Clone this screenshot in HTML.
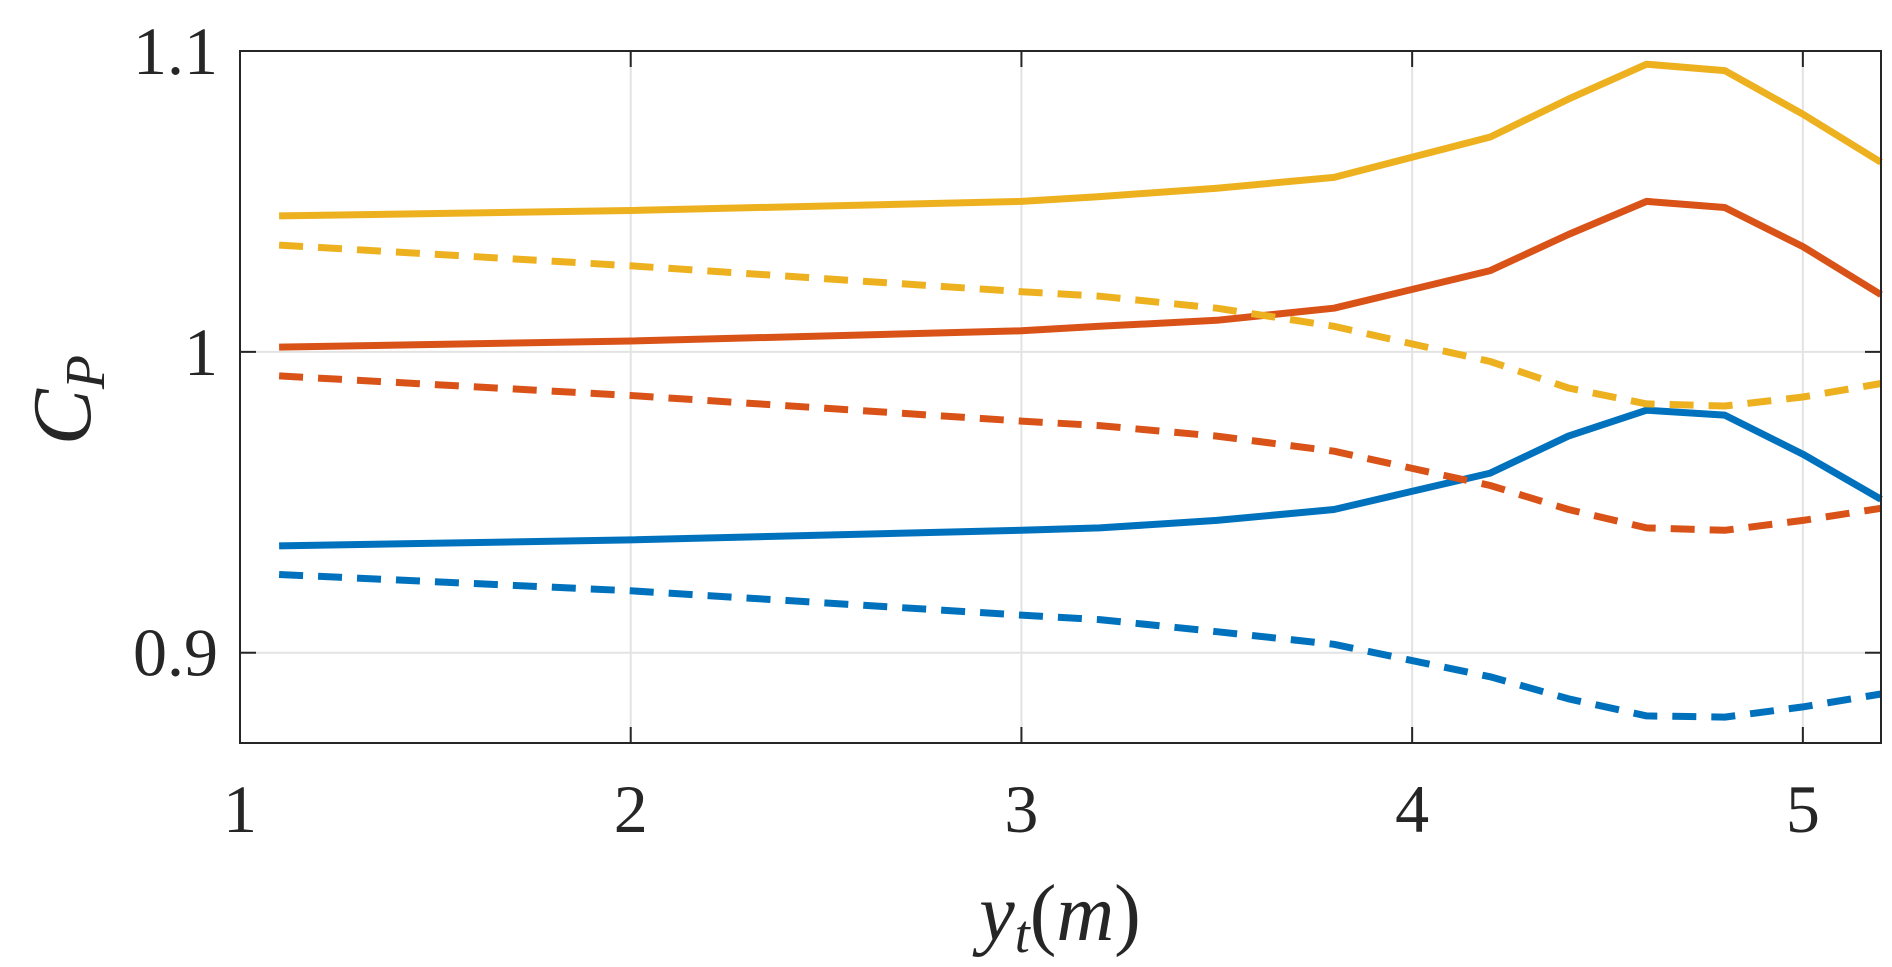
<!DOCTYPE html>
<html><head><meta charset="utf-8"><style>
html,body{margin:0;padding:0;background:#fff;}
svg{display:block;}
text{font-family:"Liberation Serif",serif;fill:#262626;}
</style></head><body>
<svg id="chart" width="1892" height="967" viewBox="0 0 1892 967" xmlns="http://www.w3.org/2000/svg">
<g id="grid"></g>
<g id="series"></g>
<rect x="240" y="51" width="1641" height="692" fill="none" stroke="#262626" stroke-width="2"/>
<g id="ticks"></g>
<text x="1060" y="940" font-size="80" font-style="italic" text-anchor="middle">y<tspan font-size="54" dy="12">t</tspan><tspan dy="-12" font-style="normal">(</tspan>m<tspan font-style="normal">)</tspan></text>
<text transform="translate(90,400) rotate(-90)" font-size="84" font-style="italic" text-anchor="middle">C<tspan font-size="56" dy="14">P</tspan></text>
</svg>
<script>
const xVals=[1.1,2,3,3.2,3.5,3.8,4.2,4.4,4.6,4.8,5.0,5.2];
const yellowSolid=[1.0452,1.047,1.050,1.0516,1.0544,1.058,1.0714,1.084,1.0956,1.0935,1.079,1.063];
const redSolid=[1.0016,1.0036,1.007,1.0085,1.0105,1.0145,1.027,1.039,1.050,1.048,1.035,1.019];
const blueSolid=[0.9355,0.9375,0.9407,0.9415,0.944,0.9476,0.9597,0.972,0.9806,0.979,0.966,0.951];
const yellowDash=[1.0355,1.0286,1.020,1.0185,1.0145,1.0085,0.9968,0.988,0.9827,0.982,0.985,0.9895];
const redDash=[0.992,0.9855,0.977,0.9755,0.972,0.967,0.9556,0.9476,0.9415,0.9407,0.944,0.948];
const blueDash=[0.926,0.9206,0.9125,0.911,0.907,0.9028,0.892,0.8847,0.879,0.8786,0.882,0.8863];
const xTicks=[1,2,3,4,5];
const yTicks=[0.9,1,1.1];
const yTickLabels=["0.9","1","1.1"];
const NS="http://www.w3.org/2000/svg";
const L=240,R=1881,T=51,B=743;
const xMin=1,xMax=5.2,yMin=0.87,yMax=1.1;
function sx(v){return L+(v-xMin)/(xMax-xMin)*(R-L);}
function sy(v){return B-(v-yMin)/(yMax-yMin)*(B-T);}
const grid=document.getElementById('grid'),ticks=document.getElementById('ticks'),ser=document.getElementById('series');
function mk(tag,attrs,parent){const e=document.createElementNS(NS,tag);for(const k in attrs)e.setAttribute(k,attrs[k]);parent.appendChild(e);return e;}
xTicks.forEach(t=>{
  const g=mk('line',{x1:sx(t),x2:sx(t),y1:T,y2:B,stroke:'#e3e3e3','stroke-width':2},grid);
  
  
  const tk=mk('line',{x1:sx(t),x2:sx(t),y1:B,y2:B-16,stroke:'#262626','stroke-width':2},ticks);
  
  
  const tk2=mk('line',{x1:sx(t),x2:sx(t),y1:T,y2:T+16,stroke:'#262626','stroke-width':2},ticks);
  
  
  const tx=mk('text',{x:sx(t),y:832,'font-size':68,'text-anchor':'middle'},ticks);
  tx.textContent=String(t);
  
  
});
yTicks.forEach((t,i)=>{
  const g=mk('line',{x1:L,x2:R,y1:sy(t),y2:sy(t),stroke:'#e3e3e3','stroke-width':2},grid);
  
  
  const tk=mk('line',{x1:L,x2:L+16,y1:sy(t),y2:sy(t),stroke:'#262626','stroke-width':2},ticks);
  
  
  const tk2=mk('line',{x1:R,x2:R-16,y1:sy(t),y2:sy(t),stroke:'#262626','stroke-width':2},ticks);
  
  
  const tx=mk('text',{x:218,y:sy(t)+23,'font-size':68,'text-anchor':'end'},ticks);
  tx.textContent=yTickLabels[i];
  
  
});
const series=[
 [yellowSolid,'#EDB120',false,'yellow-solid-line'],
 [redSolid,'#D95319',false,'red-solid-line'],
 [blueSolid,'#0072BD',false,'blue-solid-line'],
 [yellowDash,'#EDB120',true,'yellow-dashed-line'],
 [redDash,'#D95319',true,'red-dashed-line'],
 [blueDash,'#0072BD',true,'blue-dashed-line']];
series.forEach(s=>{
  const pts=xVals.map((x,i)=>sx(x).toFixed(1)+','+sy(s[0][i]).toFixed(1)).join(' ');
  const p=mk('polyline',{points:pts,fill:'none',stroke:s[1],'stroke-width':7,'stroke-linejoin':'round'},ser);
  if(s[2])p.setAttribute('stroke-dasharray','24 15');
  
  
});
</script>
</body></html>
